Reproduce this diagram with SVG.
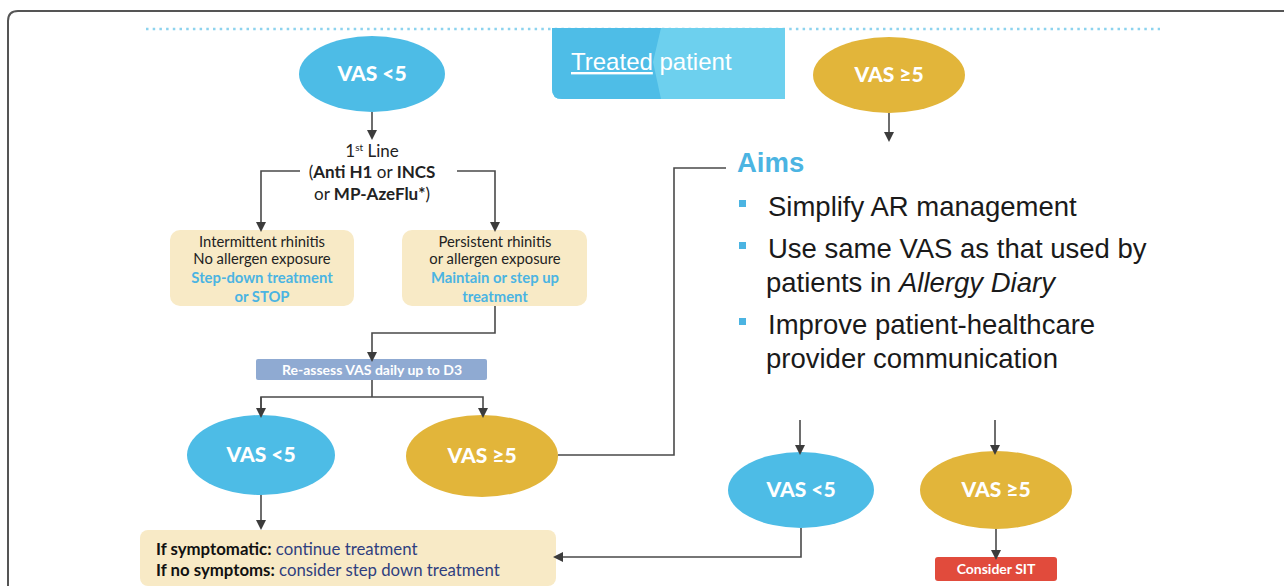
<svg xmlns="http://www.w3.org/2000/svg" width="1284" height="586" viewBox="0 0 1284 586">
<defs>
<marker id="ah" markerWidth="10" markerHeight="10" refX="5" refY="5" orient="auto" markerUnits="userSpaceOnUse" viewBox="0 0 10 10">
<path d="M0,0 L10,5 L0,10 Z" fill="#3c3c3c"/>
</marker>
<style>
.frame{fill:none;stroke:#555;stroke-width:2}
.blue{fill:#4dbce6}
.gold{fill:#e2b53a}
.beige{fill:#f8eac6}
.el{font-family:Lato,"Open Sans",sans-serif;font-weight:900;font-size:21px;fill:#fff;text-anchor:middle}
.bt{font-family:Lato,"Open Sans",sans-serif;font-size:14.8px;fill:#222;text-anchor:middle}
.bb{font-weight:bold;fill:#4bb4e2}
.fl{font-family:Lato,"Open Sans",sans-serif;font-size:17px;fill:#222;text-anchor:middle}
.conn{fill:none;stroke:#4a4a4a;stroke-width:1.6}
.aim{font-family:"Liberation Sans",Arial,sans-serif;font-size:27.5px;fill:#1a1a1a}
.bul{fill:#4bb4e2}
</style>
</defs>
<rect width="1284" height="586" fill="#fff"/>
<path class="frame" d="M8,600 L8,21 Q8,11 18,11 L1290,11"/>
<line x1="146" y1="29" x2="1160" y2="29" stroke="#8dd3ee" stroke-width="2.5" stroke-dasharray="2.5,4.2"/>

<g id="treated">
<path d="M552,28 L785,28 L785,99 L562,99 Q552,99 552,89 Z" fill="#6dd0ee"/>
<path d="M552,28 L661,28 L653,62 L661,99 L562,99 Q552,99 552,89 Z" fill="#4ebde7"/>
<text x="571" y="70" font-family="'Liberation Sans',Arial,sans-serif" font-size="24" fill="#fff"><tspan text-decoration="underline">Treated</tspan> patient</text>
</g>

<g id="vas-lt5-top"><ellipse class="blue" cx="372" cy="74" rx="73" ry="38"/><text class="el" x="372" y="81">VAS &lt;5</text></g>
<g id="vas-ge5-top"><ellipse class="gold" cx="889" cy="75" rx="76" ry="38"/><text class="el" x="889" y="82">VAS ≥5</text></g>

<g id="first-line">
<text class="fl" x="372" y="157">1<tspan font-size="10" dy="-6">st</tspan><tspan dy="6"> Line</tspan></text>
<text class="fl" x="372" y="178">(<tspan font-weight="bold">Anti H1</tspan> or <tspan font-weight="bold">INCS</tspan></text>
<text class="fl" x="372" y="200">or <tspan font-weight="bold">MP-AzeFlu*</tspan>)</text>
</g>

<g id="intermittent">
<rect class="beige" x="170" y="230" width="184" height="76" rx="10"/>
<text class="bt" x="262" y="247">Intermittent rhinitis</text>
<text class="bt" x="262" y="264">No allergen exposure</text>
<text class="bt bb" x="262" y="283">Step-down treatment</text>
<text class="bt bb" x="262" y="302">or STOP</text>
</g>
<g id="persistent">
<rect class="beige" x="402" y="230" width="185" height="76" rx="10"/>
<text class="bt" x="495" y="247">Persistent rhinitis</text>
<text class="bt" x="495" y="264">or allergen exposure</text>
<text class="bt bb" x="495" y="283">Maintain or step up</text>
<text class="bt bb" x="495" y="302">treatment</text>
</g>

<g id="reassess">
<rect x="256" y="359" width="231" height="21" rx="2" fill="#8faad2"/>
<text class="bt" x="372" y="375" font-weight="bold" style="fill:#fff;font-size:14px">Re-assess VAS daily up to D3</text>
</g>

<g id="vas-lt5-mid"><ellipse class="blue" cx="261" cy="455" rx="74" ry="40"/><text class="el" x="261" y="462">VAS &lt;5</text></g>
<g id="vas-ge5-mid"><ellipse class="gold" cx="482" cy="456" rx="76" ry="41"/><text class="el" x="482" y="463">VAS ≥5</text></g>

<g id="aims">
<text x="737" y="172" font-family="'Liberation Sans',Arial,sans-serif" font-weight="bold" font-size="27.5" fill="#4bb4e2">Aims</text>
<rect class="bul" x="739" y="200" width="7" height="7"/>
<text class="aim" x="768" y="216">Simplify AR management</text>
<rect class="bul" x="739" y="242" width="7" height="7"/>
<text class="aim" x="768" y="258">Use same VAS as that used by</text>
<text class="aim" x="766" y="292">patients in <tspan font-style="italic">Allergy Diary</tspan></text>
<rect class="bul" x="739" y="318" width="7" height="7"/>
<text class="aim" x="768" y="334">Improve patient-healthcare</text>
<text class="aim" x="766" y="368">provider communication</text>
</g>

<g id="vas-lt5-right"><ellipse class="blue" cx="801" cy="490" rx="73" ry="38"/><text class="el" x="801" y="497">VAS &lt;5</text></g>
<g id="vas-ge5-right"><ellipse class="gold" cx="996" cy="490" rx="76" ry="39"/><text class="el" x="996" y="497">VAS ≥5</text></g>

<g id="sit">
<rect x="935" y="557" width="122" height="24" rx="3" fill="#e14b3c"/>
<text class="bt" x="996" y="574" font-weight="bold" style="fill:#fff;font-size:14px">Consider SIT</text>
</g>

<g id="outcome">
<rect class="beige" x="140" y="530" width="416" height="56" rx="8"/>
<text x="156" y="555" font-family="Lato,'Open Sans',sans-serif" font-size="16.8" fill="#2f3f7f"><tspan font-weight="bold" fill="#111">If symptomatic:</tspan> continue treatment</text>
<text x="156" y="576" font-family="Lato,'Open Sans',sans-serif" font-size="16.8" fill="#2f3f7f"><tspan font-weight="bold" fill="#111">If no symptoms:</tspan> consider step down treatment</text>
</g>

<g id="connectors">
<line class="conn" x1="372" y1="112" x2="372" y2="135" marker-end="url(#ah)"/>
<polyline class="conn" points="300,171 261,171 261,227" marker-end="url(#ah)"/>
<polyline class="conn" points="457,171 495,171 495,227" marker-end="url(#ah)"/>
<polyline class="conn" points="495,306 495,333 372,333 372,357" marker-end="url(#ah)"/>
<line class="conn" x1="372" y1="380" x2="372" y2="397"/>
<polyline class="conn" points="261,413 261,397 483,397 483,413" marker-end="url(#ah)"/>
<line class="conn" x1="261" y1="397" x2="261" y2="413" marker-end="url(#ah)"/>
<polyline class="conn" points="558,455 674,455 674,168 726,168" stroke="#666"/>
<line class="conn" x1="261" y1="495" x2="261" y2="525" marker-end="url(#ah)"/>
<line class="conn" x1="889" y1="113" x2="889" y2="137" marker-end="url(#ah)"/>
<line class="conn" x1="800" y1="420" x2="800" y2="450" marker-end="url(#ah)"/>
<line class="conn" x1="995" y1="420" x2="995" y2="450" marker-end="url(#ah)"/>
<polyline class="conn" points="801,528 801,557 558,557" marker-end="url(#ah)"/>
<line class="conn" x1="996" y1="529" x2="996" y2="555" marker-end="url(#ah)"/>
</g>
</svg>
